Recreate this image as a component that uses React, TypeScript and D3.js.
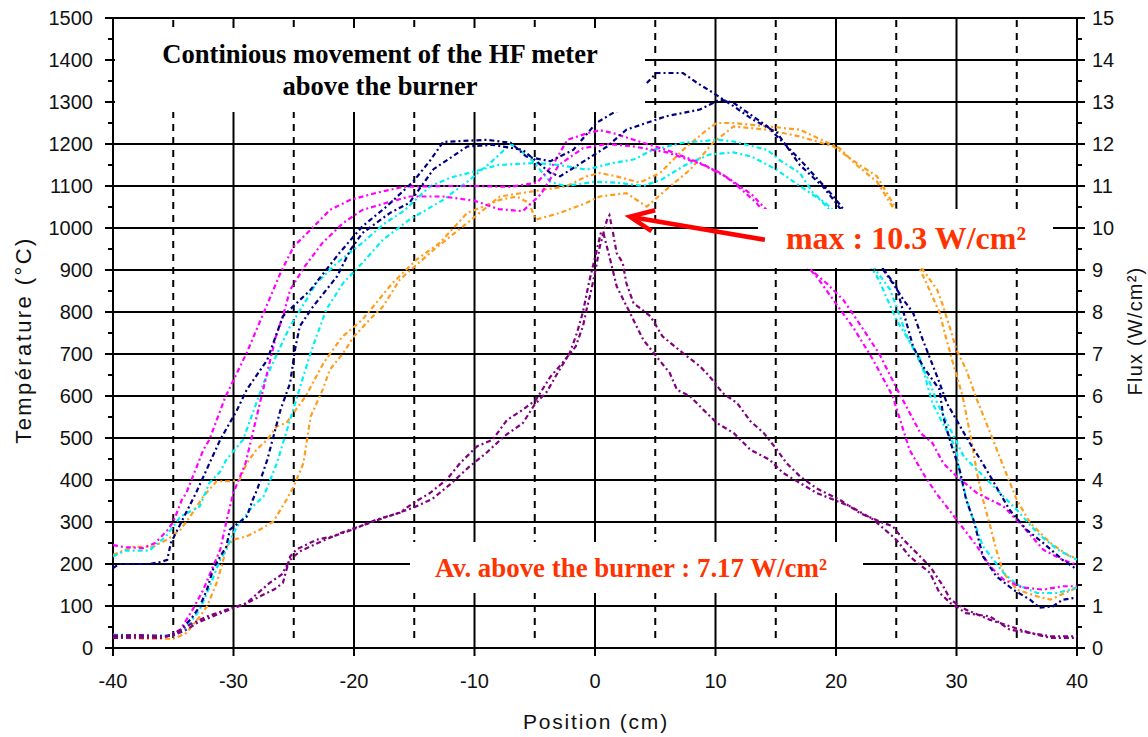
import React, { useEffect, useRef } from 'react';
import * as d3 from 'd3';

// x positions (cm) and tick values
const xTicks = [-40, -30, -20, -10, 0, 10, 20, 30, 40];
const xDashed = [-35, -25, -15, -5, 5, 15, 25, 35];
const tempTicks = [0, 100, 200, 300, 400, 500, 600, 700, 800, 900, 1000, 1100, 1200, 1300, 1400, 1500];
const fluxTicks = [0, 1, 2, 3, 4, 5, 6, 7, 8, 9, 10, 11, 12, 13, 14, 15];

// temperature curves (°C), [position, value]; null = gap in the record
const navyA = [[-40,190],[-39.5,200],[-37,200],[-36,205],[-35.5,210],[-35.2,250],[-34.5,290],[-33.1,370],[-31.1,496],[-29.7,567],[-28.9,615],[-27.2,686],[-25.9,790],[-23.6,853],[-21.2,941],[-19.3,1004],[-17.3,1051],[-15.1,1110],[-13.7,1160],[-12.6,1205],[-9,1210],[-7,1203],[-5.7,1170],[-3.7,1159],[-1.8,1186],[0.1,1250],[1.5,1274],[2,1280],[3,null],[4.3,1345],[5.1,1369],[7.3,1369],[8.5,1345],[9.8,1322],[11.5,1290],[13,1260],[15.1,1227],[17,1150],[18.9,1099],[20,1060],[21.5,1000],[22.8,950],[23.9,901],[24.7,869],[25.6,829],[26.4,798],[27.2,734],[28.6,631],[29.2,583],[30.3,528],[31.1,488],[32,448],[32.8,409],[34.4,329],[35.8,282],[37.2,250],[38.8,210],[40,187]];
const navyB = [[-40,28],[-38,30],[-35.5,28],[-34.5,40],[-33.5,70],[-32.8,99],[-32.2,139],[-31.7,187],[-31.1,218],[-30.6,241],[-30.3,282],[-28.9,313],[-28.4,353],[-28,380],[-27.2,448],[-26.1,567],[-25.3,631],[-24.9,710],[-24.5,766],[-23.4,813],[-21.4,885],[-20.3,948],[-19.3,988],[-17,1036],[-15.4,1060],[-13.4,1140],[-10.6,1194],[-8.5,1198],[-6,1186],[-3.7,1131],[-2.9,1123],[-0.7,1163],[1,1194],[2.6,1234],[5.9,1266],[8.7,1282],[10.4,1306],[11.5,1298],[14.3,1242],[17,1163],[19.8,1075],[21,1030],[22.5,960],[24,900],[25,860],[26.4,718],[27.2,671],[28.6,615],[28.9,551],[29.5,490],[30.3,420],[30.8,353],[31.4,306],[32.2,218],[33.3,171],[34.7,139],[36.1,115],[36.9,96],[38,99],[38.8,115],[40,120]];
const cyanA = [[-40,218],[-39,232],[-37,232],[-35.6,266],[-34.4,313],[-32.8,337],[-32,393],[-31.1,420],[-30.6,448],[-29.2,496],[-27.5,631],[-26.1,718],[-25.3,766],[-23.1,869],[-21.4,917],[-19.3,965],[-17.5,1010],[-15.9,1040],[-13.7,1099],[-12,1120],[-10.6,1130],[-8,1150],[-5,1155],[-3,1150],[-0.7,1139],[1.5,1155],[3.2,1163],[4.8,1186],[7.3,1203],[10.1,1210],[11.5,1206],[14.3,1186],[15.4,1160],[17,1131],[18.1,1083],[19.5,1050],[21,1000],[23.1,908],[24.5,853],[25,813],[25.9,742],[27,679],[27.8,631],[28.4,583],[29.5,520],[30.6,456],[32.8,393],[35,329],[36.7,274],[38.4,234],[40,210]];
const cyanB = [[-40,32],[-38,30],[-35,30],[-34,45],[-32.8,91],[-32.2,131],[-31.1,210],[-30.6,234],[-30,274],[-29.5,298],[-28.4,337],[-27.5,361],[-26.4,440],[-24.8,591],[-23.6,703],[-22.3,806],[-20.9,869],[-19.3,917],[-17.6,972],[-15.4,1020],[-12.6,1067],[-10.6,1110],[-8.5,1160],[-7,1200],[-5.5,1170],[-3.7,1110],[-2.5,1100],[0,1110],[1.8,1108],[4,1100],[5.5,1115],[7.5,1150],[9.5,1175],[11.5,1180],[13,1170],[15,1140],[17,1100],[18.7,1067],[20.5,1010],[22,950],[23.5,880],[25,782],[27,687],[28,583],[30,472],[30.3,409],[31.1,329],[32.2,242],[33.9,179],[35,151],[36.7,131],[38.4,131],[40,144]];
const orangeA = [[-40,222],[-38.3,241],[-36.7,241],[-35.5,258],[-34.4,282],[-33.6,313],[-32.5,361],[-31.4,397],[-30.3,397],[-29.5,400],[-28.9,440],[-28.1,472],[-27.2,496],[-26.4,528],[-25.6,536],[-24,600],[-22.5,680],[-21,740],[-19.3,782],[-16.8,869],[-14.8,925],[-12.9,964],[-10.6,1036],[-7.9,1067],[-6.5,1075],[-5.5,1060],[-4.9,1020],[-2.9,1036],[-0.7,1060],[0.4,1075],[2.6,1083],[4.3,1051],[5.9,1091],[7.9,1139],[9.8,1203],[11.5,1242],[14.3,1234],[17,1218],[19.8,1194],[21.7,1155],[23.4,1123],[24.7,1060],[26,980],[27.2,901],[28.4,853],[28.9,813],[29.5,758],[30,710],[30.8,663],[31.7,591],[32.8,512],[33.9,432],[35,353],[36.1,298],[37.8,250],[39.4,218],[40,215]];
const orangeB = [[-40,25],[-37,22],[-35,22],[-34.7,25],[-33.9,36],[-32.8,75],[-32.2,99],[-31.4,155],[-30.9,203],[-30.6,241],[-30,258],[-28.9,266],[-27.8,282],[-26.7,301],[-25.6,353],[-25,385],[-24.2,440],[-23.6,551],[-22.6,615],[-22,663],[-20.9,702],[-20,742],[-18.7,782],[-17.6,813],[-16.2,877],[-13.4,948],[-10.6,1012],[-7.9,1075],[-4.3,1091],[-2.4,1099],[-0.7,1123],[0.4,1131],[1.8,1123],[3.7,1108],[5.4,1131],[7.3,1186],[9.3,1234],[10.1,1250],[11.5,1250],[14.3,1242],[17,1234],[20.3,1190],[21.7,1150],[23.4,1110],[24.7,1050],[26,960],[27.5,869],[28.6,798],[29.1,742],[29.7,679],[30.5,600],[31.2,500],[31.7,417],[32.2,353],[32.8,290],[33.3,234],[33.9,179],[35,139],[36.7,123],[37.8,115],[39,131],[40,144]];
const magentaA = [[-40,245],[-39,240],[-37.5,238],[-36.5,250],[-35.5,280],[-35,300],[-34.3,352],[-33.9,370],[-32.5,472],[-32,496],[-30.7,596],[-28.9,703],[-27.5,798],[-26.1,893],[-25,956],[-23.6,996],[-22,1043],[-20.3,1067],[-18.1,1084],[-15.9,1098],[-12.6,1100],[-10,1100],[-7,1098],[-4.8,1108],[-3.5,1150],[-2.3,1210],[-0.7,1225],[0.4,1233],[1.5,1226],[3.2,1210],[5.9,1186],[8.7,1155],[10.4,1131],[11.5,1108],[13.4,1060],[15,1000],[16.5,950],[17.6,908],[19.2,869],[20.6,829],[22,770],[23.6,700],[25,620],[27,512],[28,488],[28.9,440],[30,409],[31.7,369],[33.9,337],[35.5,290],[37.2,234],[38.8,210],[40,198]];
const magentaB = [[-40,25],[-37,25],[-35.5,28],[-34.4,44],[-33.4,91],[-32.5,139],[-31.7,194],[-31.1,234],[-30.5,313],[-30,370],[-29,440],[-28,560],[-26.5,740],[-25.9,790],[-25.3,853],[-24.1,908],[-22.6,965],[-20.9,1012],[-19.3,1043],[-17.3,1060],[-15.4,1075],[-12.6,1075],[-10,1065],[-8,1045],[-6,1040],[-4.5,1080],[-3,1150],[-1,1190],[1,1200],[3,1195],[6,1180],[9,1150],[11,1120],[13,1080],[15,1020],[17,930],[18.5,880],[20,820],[21.5,760],[23,690],[24.7,600],[26.1,472],[27.2,417],[28.3,369],[30,306],[31.7,242],[32.8,194],[33.9,163],[35.5,144],[37.2,139],[38.8,147],[40,147]];

// heat flux curves (W/cm²), right axis
const purpleA = [[-40,0.24],[-38,0.25],[-36,0.24],[-35,0.32],[-33.9,0.52],[-32.2,0.75],[-30.6,0.91],[-28.9,1.07],[-27.8,1.23],[-26.6,1.4],[-25.9,1.55],[-25.3,2.18],[-24.8,2.34],[-23.1,2.58],[-21.7,2.66],[-20.1,2.82],[-18.1,3.06],[-16.2,3.22],[-15.1,3.45],[-13.7,3.69],[-12.3,4.01],[-11.2,4.4],[-9.8,4.8],[-8.5,4.96],[-7.3,5.43],[-6,5.67],[-4.9,5.91],[-3.7,6.46],[-2.7,6.79],[-1.6,7.18],[-1,7.66],[-0.7,8.06],[-0.3,8.53],[0.1,9.08],[0.4,9.56],[1,10.2],[1.2,10.3],[1.5,9.88],[1.8,9.4],[2.3,9.17],[2.6,8.69],[3.2,8.21],[4.6,7.9],[5.6,7.42],[7.3,7.02],[8.7,6.71],[9.5,6.47],[10.6,6.07],[11.8,5.83],[12.9,5.4],[14,5.12],[15.1,4.72],[15.9,4.4],[17,4.09],[18.4,3.8],[20.3,3.53],[22,3.21],[23.9,2.98],[24.7,2.9],[25.6,2.58],[26.7,2.26],[27.8,1.94],[28.9,1.47],[29.5,1.15],[30.8,0.91],[32.8,0.67],[34.4,0.52],[36.1,0.36],[37.8,0.28],[40,0.28]];
const purpleB = [[-40,0.3],[-38,0.3],[-36,0.28],[-35,0.3],[-34,0.42],[-33,0.6],[-31.5,0.78],[-30,0.95],[-29,1.05],[-28,1.3],[-27,1.55],[-26,1.75],[-25.3,2.1],[-24.5,2.3],[-23,2.5],[-21,2.75],[-19,2.95],[-17,3.15],[-15,3.35],[-13.5,3.55],[-12,3.9],[-10.5,4.3],[-9,4.65],[-7.5,5.05],[-6,5.35],[-5,5.8],[-4,6.1],[-3,6.6],[-2.1,7.02],[-1.5,7.5],[-1,8],[-0.5,8.7],[0,9.3],[0.5,9.9],[0.7,9.88],[1.3,9.2],[1.8,8.61],[2.9,7.98],[4,7.34],[5.1,6.94],[6.2,6.55],[6.8,6.15],[7.9,5.99],[9,5.67],[10.1,5.36],[11.5,5.12],[12.9,4.72],[14.5,4.48],[15.6,4.17],[17,3.93],[18.4,3.69],[21.2,3.37],[23.1,3.06],[25,2.58],[26.1,2.18],[27.8,1.79],[28.6,1.31],[29.5,1.07],[30.8,0.83],[32.8,0.75],[34.4,0.44],[36.1,0.36],[37.8,0.24],[40,0.24]];

const series = [
  { data: orangeA, color: '#ff9d1e', axis: 'temp' },
  { data: orangeB, color: '#ff9d1e', axis: 'temp' },
  { data: cyanA, color: '#00f0f0', axis: 'temp' },
  { data: cyanB, color: '#00f0f0', axis: 'temp' },
  { data: magentaA, color: '#ff00ff', axis: 'temp' },
  { data: magentaB, color: '#ff00ff', axis: 'temp' },
  { data: navyA, color: '#000080', axis: 'temp' },
  { data: navyB, color: '#000080', axis: 'temp' },
  { data: purpleA, color: '#800080', axis: 'flux' },
  { data: purpleB, color: '#800080', axis: 'flux' },
];

const App = () => {
  const ref = useRef(null);

  useEffect(() => {
    const margin = { top: 18, right: 71, bottom: 89, left: 113 };
    const W = 1148;
    const H = 737;
    const width = W - margin.left - margin.right;
    const height = H - margin.top - margin.bottom;

    const root = d3.select(ref.current);
    root.selectAll('*').remove();
    const svg = root.append('g').attr('transform', `translate(${margin.left},${margin.top})`);

    const x = d3.scaleLinear().domain([-40, 40]).range([0, width]);
    const yT = d3.scaleLinear().domain([0, 1500]).range([height, 0]);
    const yF = d3.scaleLinear().domain([0, 15]).range([height, 0]);

    const sans = "'Liberation Sans', Arial, sans-serif";
    const serif = "'Liberation Serif', 'Times New Roman', serif";

    // dashed verticals at the odd fives
    svg.selectAll('.dash')
      .data(xDashed)
      .enter()
      .append('line')
      .attr('x1', d => x(d)).attr('x2', d => x(d))
      .attr('y1', 2).attr('y2', height - 8)
      .attr('stroke', '#000').attr('stroke-width', 2)
      .attr('stroke-dasharray', '7,6');

    // solid verticals + bottom ticks
    svg.selectAll('.vgrid')
      .data(xTicks)
      .enter()
      .append('line')
      .attr('x1', d => x(d)).attr('x2', d => x(d))
      .attr('y1', 0).attr('y2', height + 8)
      .attr('stroke', '#000').attr('stroke-width', 2);

    // horizontal grid + outer ticks on both sides
    svg.selectAll('.hgrid')
      .data(tempTicks)
      .enter()
      .append('line')
      .attr('x1', -8).attr('x2', width + 8)
      .attr('y1', d => yT(d)).attr('y2', d => yT(d))
      .attr('stroke', '#000').attr('stroke-width', 2);

    // minor ticks
    svg.selectAll('.minorL')
      .data(tempTicks.slice(1).map(t => t - 50))
      .enter()
      .append('line')
      .attr('x1', -5).attr('x2', 0)
      .attr('y1', d => yT(d)).attr('y2', d => yT(d))
      .attr('stroke', '#000').attr('stroke-width', 2);
    svg.selectAll('.minorR')
      .data(fluxTicks.slice(1).map(t => t - 0.5))
      .enter()
      .append('line')
      .attr('x1', width).attr('x2', width + 5)
      .attr('y1', d => yF(d)).attr('y2', d => yF(d))
      .attr('stroke', '#000').attr('stroke-width', 2);

    // curves
    series.forEach(s => {
      const yScale = s.axis === 'flux' ? yF : yT;
      const line = d3.line()
        .defined(d => d[1] !== null)
        .x(d => x(d[0]))
        .y(d => yScale(d[1]));
      svg.append('path')
        .datum(s.data)
        .attr('d', line)
        .attr('fill', 'none')
        .attr('stroke', s.color)
        .attr('stroke-width', 2.2)
        .attr('stroke-dasharray', '5,3,2,3');
    });

    // white label boxes over the grid
    const boxes = [
      { x: 115, y: 28, w: 530, h: 84 },
      { x: 758, y: 209, w: 295, h: 59 },
      { x: 410, y: 542, w: 453, h: 51 },
    ];
    root.selectAll('.box')
      .data(boxes)
      .enter()
      .append('rect')
      .attr('x', d => d.x).attr('y', d => d.y)
      .attr('width', d => d.w).attr('height', d => d.h)
      .attr('fill', '#fff');

    // title
    root.append('text')
      .attr('x', 380).attr('y', 63)
      .attr('text-anchor', 'middle')
      .style('font-family', serif).style('font-weight', 'bold').style('font-size', '26.6px')
      .text('Continious movement of the HF meter');
    root.append('text')
      .attr('x', 380).attr('y', 95)
      .attr('text-anchor', 'middle')
      .style('font-family', serif).style('font-weight', 'bold').style('font-size', '26.6px')
      .text('above the burner');

    root.append('text')
      .attr('x', 906).attr('y', 249)
      .attr('text-anchor', 'middle')
      .attr('fill', '#ff3300')
      .style('font-family', serif).style('font-weight', 'bold').style('font-size', '32px')
      .text('max : 10.3 W/cm²');
    root.append('text')
      .attr('x', 631).attr('y', 577)
      .attr('text-anchor', 'middle')
      .attr('fill', '#ff3300')
      .style('font-family', serif).style('font-weight', 'bold').style('font-size', '26.9px')
      .text('Av. above the burner : 7.17 W/cm²');

    // arrow pointing to the flux peak
    const tip = [margin.left + x(2.9), margin.top + yT(1027)];
    const tail = [margin.left + x(14.1), margin.top + yT(972)];
    const ang = Math.atan2(tail[1] - tip[1], tail[0] - tip[0]);
    const barb = 26;
    const spread = 0.42;
    root.append('line')
      .attr('x1', tail[0]).attr('y1', tail[1])
      .attr('x2', tip[0] + 3 * Math.cos(ang)).attr('y2', tip[1] + 3 * Math.sin(ang))
      .attr('stroke', '#ff0000').attr('stroke-width', 4.5);
    root.append('path')
      .attr('d', `M${tip[0] + barb * Math.cos(ang - spread)},${tip[1] + barb * Math.sin(ang - spread)}L${tip[0]},${tip[1]}L${tip[0] + barb * Math.cos(ang + spread)},${tip[1] + barb * Math.sin(ang + spread)}`)
      .attr('fill', 'none')
      .attr('stroke', '#ff0000').attr('stroke-width', 4.5)
      .attr('stroke-linejoin', 'miter');

    // tick labels
    svg.selectAll('.lblL')
      .data(tempTicks)
      .enter()
      .append('text')
      .attr('x', -20).attr('y', d => yT(d))
      .attr('dy', '0.36em')
      .attr('text-anchor', 'end')
      .attr('fill', '#111')
      .style('font-family', sans).style('font-size', '20px')
      .text(d => d);
    svg.selectAll('.lblR')
      .data(fluxTicks)
      .enter()
      .append('text')
      .attr('x', width + 15).attr('y', d => yF(d))
      .attr('dy', '0.36em')
      .attr('fill', '#111')
      .style('font-family', sans).style('font-size', '20px')
      .text(d => d);
    svg.selectAll('.lblB')
      .data(xTicks)
      .enter()
      .append('text')
      .attr('x', d => x(d)).attr('y', height + 40)
      .attr('text-anchor', 'middle')
      .attr('fill', '#111')
      .style('font-family', sans).style('font-size', '20px')
      .text(d => d);

    // axis titles
    root.append('text')
      .attr('transform', 'translate(31,340) rotate(-90)')
      .attr('text-anchor', 'middle')
      .attr('fill', '#111')
      .style('font-family', sans).style('font-size', '22px').style('letter-spacing', '2.4px')
      .text('Température (°C)');
    root.append('text')
      .attr('transform', 'translate(1142,331) rotate(-90)')
      .attr('text-anchor', 'middle')
      .attr('fill', '#111')
      .style('font-family', sans).style('font-size', '20px').style('letter-spacing', '1.2px')
      .text('Flux (W/cm²)');
    root.append('text')
      .attr('x', 596).attr('y', 729)
      .attr('text-anchor', 'middle')
      .attr('fill', '#111')
      .style('font-family', sans).style('font-size', '21px').style('letter-spacing', '1.8px')
      .text('Position (cm)');
  }, []);

  return (
    <svg ref={ref} width={1148} height={737}
      style={{ position: 'absolute', left: 0, top: 0, background: '#fff' }} />
  );
};

export default App;
